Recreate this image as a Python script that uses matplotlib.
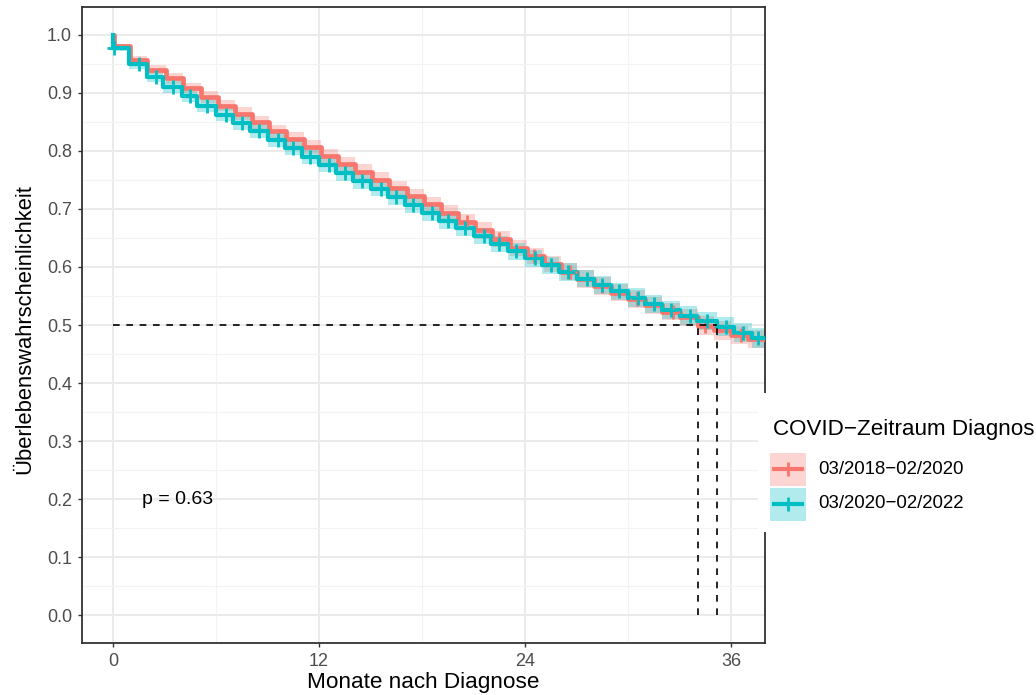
import matplotlib
matplotlib.use("Agg")
import matplotlib.pyplot as plt
from matplotlib.patches import Rectangle
from matplotlib.lines import Line2D
import numpy as np

plt.rcParams['font.family'] = ['Liberation Sans', 'DejaVu Sans']

# ---------------- data ----------------
groups = ["03/2018\u221202/2020", "03/2020\u221202/2022"]
legend_title = "COVID\u2212Zeitraum Diagnos"
colors = ["#F8766D", "#00BFC4"]

red_t = [0, 0.05, 1.0, 2.0, 3.1, 4.1, 5.1, 6.1, 7.1, 8.1, 9.1, 10.1, 11.1, 12.1,
         13.1, 14.1, 15.1, 16.1, 17.1, 18.1, 19.1, 20.1, 21.1, 22.1, 23.1, 24.1,
         25.1, 26.1, 27.0, 28.0, 29.0, 30.0, 31.0, 32.0, 33.0, 34.1, 35.0, 36.0, 37.0]
red_s = [1.0, 0.980, 0.956, 0.940, 0.925, 0.908, 0.893, 0.878, 0.864, 0.849, 0.834,
         0.820, 0.806, 0.792, 0.778, 0.764, 0.750, 0.736, 0.722, 0.708, 0.693, 0.678,
         0.663, 0.648, 0.633, 0.619, 0.605, 0.592, 0.579, 0.567, 0.556, 0.545, 0.534,
         0.523, 0.513, 0.499, 0.491, 0.483, 0.476]
red_hw = [0.0, 0.005, 0.007, 0.008, 0.009, 0.009, 0.010, 0.010, 0.011, 0.011, 0.011,
          0.012, 0.012, 0.012, 0.012, 0.013, 0.013, 0.013, 0.013, 0.013, 0.013, 0.014,
          0.014, 0.014, 0.014, 0.014, 0.014, 0.014, 0.015, 0.015, 0.015, 0.015, 0.015,
          0.015, 0.015, 0.016, 0.016, 0.016, 0.016]

teal_t = [0, 0.02, 0.9, 2.0, 2.9, 4.0, 4.9, 6.0, 7.0, 8.0, 9.0, 10.0, 11.0, 12.0,
          13.0, 14.0, 15.0, 16.0, 17.0, 18.0, 19.0, 20.0, 21.0, 22.0, 23.0, 24.0,
          25.0, 26.0, 27.0, 28.0, 29.0, 30.0, 31.0, 32.0, 33.0, 34.0, 35.2, 36.2, 37.2]
teal_s = [1.0, 0.978, 0.950, 0.928, 0.910, 0.894, 0.878, 0.862, 0.848, 0.834, 0.819,
          0.805, 0.790, 0.776, 0.762, 0.748, 0.735, 0.721, 0.707, 0.693, 0.680, 0.667,
          0.653, 0.640, 0.627, 0.615, 0.603, 0.591, 0.580, 0.569, 0.558, 0.547, 0.536,
          0.526, 0.516, 0.507, 0.497, 0.487, 0.478]
teal_hw = [0.0, 0.006, 0.008, 0.009, 0.010, 0.010, 0.011, 0.011, 0.012, 0.012, 0.012,
           0.012, 0.013, 0.013, 0.013, 0.013, 0.013, 0.014, 0.014, 0.014, 0.014, 0.014,
           0.014, 0.014, 0.015, 0.015, 0.015, 0.015, 0.015, 0.015, 0.015, 0.016, 0.016,
           0.016, 0.016, 0.016, 0.016, 0.017, 0.017]

red_cens = [20.6, 22.5, 24.5, 26.6, 28.5, 30.5, 32.6, 34.5, 36.6]
teal_cens = [0.03, 1.5, 2.5, 3.5, 4.5, 5.5, 6.6, 7.5, 8.5, 9.6, 10.5, 11.5, 12.6, 13.5,
             14.5, 15.6, 16.5, 17.5, 18.6, 19.5, 20.5, 21.6, 22.5, 23.5, 24.6, 25.5,
             26.5, 27.6, 28.5, 29.5, 30.6, 31.5, 32.5, 33.6, 34.6, 35.7, 36.7, 37.6]

t_end = 38.0
median_times = [34.1, 35.2]
p_text = "p = 0.63"
x_ticks = [0, 12, 24, 36]
y_ticks = [0.0, 0.1, 0.2, 0.3, 0.4, 0.5, 0.6, 0.7, 0.8, 0.9, 1.0]
xlabel = "Monate nach Diagnose"
ylabel = "\u00dcberlebenswahrscheinlichkeit"

# ---------------- figure ----------------
W, H = 1036, 695
fig = plt.figure(figsize=(W / 100, H / 100), dpi=100)
ax = fig.add_axes([82 / W, 1 - 643 / H, (765 - 82) / W, (643 - 7) / H])

ax.set_xlim(-1.81, 37.98)
ax.set_ylim(-0.048, 1.048)

# grid
ax.set_xticks(x_ticks)
ax.set_xticks([6, 18, 30], minor=True)
ax.set_yticks(y_ticks)
ax.set_yticks([v + 0.05 for v in y_ticks[:-1]], minor=True)
ax.set_yticklabels([f"{v:.1f}" for v in y_ticks])
ax.grid(which='major', color='#EBEBEB', lw=1.4, zorder=0)
ax.grid(which='minor', color='#F3F3F3', lw=0.8, zorder=0)
ax.set_axisbelow(True)
ax.tick_params(which='minor', length=0)
ax.tick_params(which='major', length=3.2, width=1.0, color='#333333',
               labelsize=13, labelcolor='#4D4D4D', pad=4)
for s in ax.spines.values():
    s.set_color('#333333')
    s.set_linewidth(1.3)


def step_arrays(t, s, hw):
    tt = list(t) + [t_end]
    ss = list(s) + [s[-1]]
    hh = list(hw) + [hw[-1]]
    return np.array(tt), np.array(ss), np.array(hh)


def val_at(t, s, x):
    idx = np.searchsorted(np.array(t), x, side='right') - 1
    return np.array(s)[idx]


series = [(red_t, red_s, red_hw, red_cens), (teal_t, teal_s, teal_hw, teal_cens)]
line_w = [3.4, 3.0]
for (t, s, hw, cens), c in zip(series, colors):
    tt, ss, hh = step_arrays(t, s, hw)
    ax.fill_between(tt, ss - hh, ss + hh, step='post', color=c, alpha=0.3,
                    lw=0, zorder=2)
for (t, s, hw, cens), c, lw in zip(series, colors, line_w):
    tt, ss, hh = step_arrays(t, s, hw)
    ax.step(tt, ss, where='post', color=c, lw=lw, zorder=3)
    cy = val_at(t, s, cens)
    ax.plot(cens, cy, ls='none', marker='+', ms=10, mew=2.0, color=c, zorder=4)

# median lines
ax.plot([0, max(median_times)], [0.5, 0.5], color='black', lw=1.2,
        dashes=(4, 4), zorder=5)
for m in median_times:
    ax.plot([m, m], [0, 0.5], color='black', lw=1.2, dashes=(4, 4), zorder=5)

ax.text(1.7, 0.2, p_text, ha='left', va='center', fontsize=14, color='black')

# axis labels
fig.text(423.5 / W, 1 - 688 / H, xlabel, ha='center', va='baseline',
         fontsize=16.2, color='black')
fig.text(25 / W, 1 - 329.5 / H, ylabel, ha='center', va='center',
         rotation=90, fontsize=15.8, color='black')

# legend (manual, overlapping panel border)
fig.patches.append(Rectangle((758 / W, 1 - 532 / H), (W - 758) / W, (532 - 393) / H,
                             transform=fig.transFigure, facecolor='white',
                             edgecolor='none', zorder=10))
fig.text(773 / W, 1 - 430 / H, legend_title, ha='left', va='center',
         fontsize=16.1, color='black', zorder=11)
key_tops = [452, 487]
for i, (lab, c) in enumerate(zip(groups, colors)):
    y0 = key_tops[i]
    fig.patches.append(Rectangle((770 / W, 1 - (y0 + 34) / H), 36 / W, 33 / H,
                                 transform=fig.transFigure, facecolor=c,
                                 alpha=0.3, edgecolor='none', zorder=11))
    yc = 1 - (y0 + 17) / H
    fig.lines.append(Line2D([774 / W, 802 / W], [yc, yc], transform=fig.transFigure,
                            color=c, lw=3.0, zorder=12))
    fig.lines.append(Line2D([788 / W], [yc], transform=fig.transFigure, color=c,
                            marker='+', ms=10, mew=2.0, ls='none', zorder=12))
    fig.text(818 / W, yc, lab, ha='left', va='center', fontsize=13.4,
             color='black', zorder=12)

fig.savefig("out.png", dpi=100)
